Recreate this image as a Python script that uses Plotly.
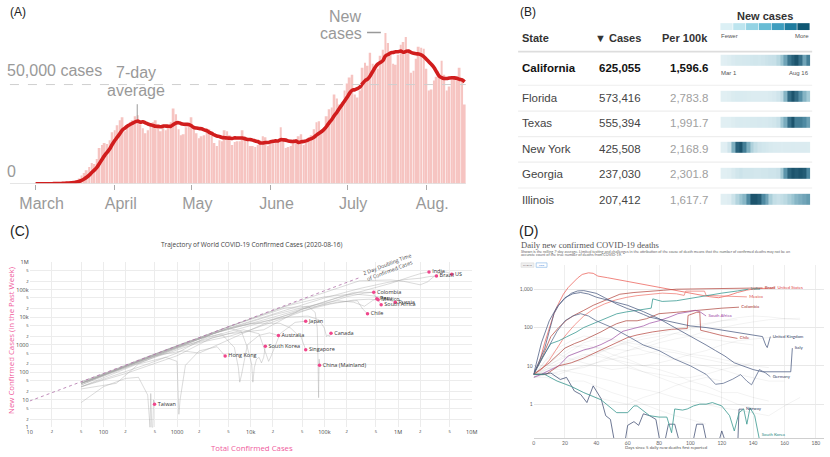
import numpy as np
import pandas as pd
import plotly.graph_objects as go

W, H = 830, 457


def fx(p):
    return p / W


def fy(p):
    return 1 - p / H


# ── (A) US daily new cases, 1 Mar – 16 Aug 2020 ─────────────────
A_MAR = [15, 25, 25, 35, 70, 85, 110, 120, 180, 280, 400, 480, 650, 700, 900,
         1200, 1700, 2700, 4200, 5500, 6800, 8500, 10500, 10000, 12500, 18000,
         19500, 20500, 20000, 22000, 26000]
A_APR = [27000, 29500, 32000, 33500, 26500, 29500, 31000, 32000, 34000, 34500,
         30000, 28000, 25500, 27000, 29500, 31000, 32000, 29500, 26500, 28000,
         27000, 29000, 31000, 38000, 35000, 27500, 24500, 25000, 28500, 30500]
A_MAY = [33500, 29000, 25500, 23000, 24000, 24500, 28000, 27500, 25000, 20500,
         19000, 22000, 21500, 27000, 26500, 24500, 19500, 21000, 21500, 21500,
         27000, 24000, 22000, 19000, 19000, 18500, 19500, 22000, 24000, 23500, 19000]
A_JUN = [21500, 20500, 21000, 21500, 28500, 23000, 18000, 18500, 19000, 21000,
         22500, 24000, 25000, 19500, 20500, 23500, 24500, 27500, 31000, 31500,
         26000, 28500, 34000, 37500, 38500, 45000, 43000, 40000, 41000, 47000]
A_JUL = [50500, 53500, 55000, 45000, 43500, 47000, 58500, 61000, 59500, 66000,
         60500, 58500, 58000, 64500, 67500, 76000, 71000, 66000, 60500, 60000,
         65000, 70000, 71500, 74000, 67000, 56000, 57000, 63000, 69000, 68500, 68000]
A_AUG = [58000, 47000, 47500, 52000, 54000, 54000, 62000, 55000, 47000, 49000,
         53000, 53500, 52500, 58500, 53000, 40000]
A_DAILY = A_MAR + A_APR + A_MAY + A_JUN + A_JUL + A_AUG
A_MONTH_START = [0, 31, 61, 92, 122, 153]
A_MONTH_LABEL = ["March", "April", "May", "June", "July", "Aug."]

# ── (B) state table ─────────────────────────────────────────────
B_STATES = ["California", "Florida", "Texas", "New York", "Georgia", "Illinois"]
B_CASES = [625055, 573416, 555394, 425508, 237030, 207412]
B_PER100K = [1596.6, 2783.8, 1991.7, 2168.9, 2301.8, 1617.7]
# weekly average of new cases (thousands), weeks starting 1 Mar
B_WEEKLY = {
    "California": [0.02, 0.1, 0.4, 0.9, 1.2, 1.2, 1.3, 1.4, 1.6, 1.7, 1.6, 1.9,
                   2.3, 2.6, 2.8, 3.5, 5.0, 6.5, 8.3, 9.0, 9.5, 8.5, 6.5, 8.0],
    "Florida": [0.005, 0.02, 0.2, 0.8, 1.0, 1.0, 0.9, 0.8, 0.6, 0.6, 0.7, 0.7,
                0.7, 0.9, 1.3, 2.2, 3.8, 7.0, 10.5, 11.5, 10.5, 9.0, 7.0, 5.5],
    "Texas": [0.0, 0.01, 0.1, 0.5, 0.8, 0.9, 0.8, 0.9, 1.0, 1.0, 1.2, 1.1,
              1.2, 1.5, 1.8, 2.8, 5.0, 6.5, 9.0, 10.0, 8.5, 8.5, 8.0, 7.0],
    "New York": [0.01, 0.1, 2.0, 6.0, 9.0, 9.5, 8.0, 6.0, 4.0, 3.0, 2.0, 1.6,
                 1.3, 1.0, 0.8, 0.7, 0.6, 0.7, 0.7, 0.75, 0.7, 0.7, 0.7, 0.65],
    "Georgia": [0.0, 0.01, 0.1, 0.4, 0.7, 0.9, 0.7, 0.7, 0.7, 0.6, 0.6, 0.7,
                0.7, 0.8, 0.8, 1.0, 1.8, 2.8, 3.5, 3.7, 3.6, 3.7, 3.6, 3.0],
    "Illinois": [0.0, 0.01, 0.1, 0.6, 1.0, 1.3, 1.5, 2.0, 2.5, 2.5, 2.4, 2.0,
                 1.7, 1.1, 0.8, 0.7, 0.8, 0.9, 1.1, 1.3, 1.5, 1.6, 1.7, 1.8],
}
B_WEEK_EDGES = [0, 7, 14, 21, 28, 35, 42, 49, 56, 63, 70, 77, 84, 91, 98, 105,
                112, 119, 126, 133, 140, 147, 154, 161, 169]

# ── (C) trajectories: total cases vs new cases in past week ─────
C_TOTAL = {
    "US": [60, 500, 5000, 50000, 300000, 800000, 1200000, 1600000, 2000000,
           2500000, 3200000, 3900000, 4700000, 5360000],
    "India": [50, 500, 3000, 15000, 50000, 150000, 400000, 800000, 1500000,
              2000000, 2630000],
    "Brazil": [50, 500, 5000, 30000, 100000, 300000, 700000, 1200000, 2000000,
               2700000, 3320000],
    "Colombia": [50, 500, 2000, 5000, 10000, 30000, 80000, 200000, 350000, 468000],
    "Peru": [50, 500, 3000, 20000, 60000, 150000, 250000, 350000, 450000, 515000],
    "Mexico": [50, 500, 3000, 15000, 50000, 120000, 250000, 400000, 537000],
    "Russia": [50, 500, 5000, 30000, 100000, 250000, 450000, 650000, 800000, 917000],
    "South Africa": [50, 500, 1200, 2000, 5000, 20000, 80000, 250000, 450000, 590000],
    "Chile": [50, 1000, 5000, 15000, 50000, 150000, 280000, 330000, 385000],
    "Japan": [50, 200, 1000, 3000, 8000, 13000, 16000, 17500, 19000, 25000,
              40000, 55800],
    "Canada": [50, 500, 5000, 30000, 60000, 85000, 100000, 107000, 112000,
               117000, 123000],
    "Australia": [50, 300, 1500, 4000, 6000, 6800, 7100, 7500, 9000, 13000,
                  18000, 23800],
    "South Korea": [50, 500, 5000, 7500, 9000, 10300, 10700, 11200, 12000, 13000,
                    14000, 15000, 15800],
    "Singapore": [50, 150, 400, 1000, 3000, 10000, 25000, 35000, 42000, 48000,
                  52000, 55800],
    "Hong Kong": [50, 100, 150, 300, 700, 1000, 1040, 1060, 1100, 1300, 2000,
                  3500, 4500],
    "China (Mainland)": [50, 500, 5000, 30000, 60000, 75000, 80000, 81500, 82500,
                         83000, 83500, 84000, 85000, 86000],
    "Taiwan": [50, 100, 200, 300, 400, 420, 430, 440, 455, 470, 480, 495],
}
C_WEEKLY = {
    "US": [45, 450, 4500, 42000, 210000, 225000, 200000, 170000, 150000, 190000,
           330000, 460000, 420000, 361000],
    "India": [30, 350, 2500, 8000, 20000, 50000, 100000, 170000, 300000, 380000,
              440000],
    "Brazil": [40, 420, 4000, 18000, 50000, 110000, 180000, 230000, 260000,
               300000, 310000],
    "Colombia": [40, 350, 1200, 2000, 3500, 10000, 25000, 55000, 75000, 81000],
    "Peru": [40, 400, 2500, 12000, 25000, 40000, 35000, 25000, 40000, 47000],
    "Mexico": [35, 380, 2000, 7000, 17000, 30000, 42000, 45000, 43000],
    "Russia": [35, 450, 4500, 25000, 55000, 70000, 60000, 50000, 40000, 34600],
    "South Africa": [45, 400, 600, 500, 1500, 8000, 30000, 80000, 80000, 28600],
    "Chile": [40, 800, 2500, 3500, 20000, 35000, 40000, 20000, 13300],
    "Japan": [30, 90, 400, 1800, 3500, 2500, 500, 250, 400, 2500, 6500, 7200],
    "Canada": [40, 400, 4000, 10000, 11000, 8000, 4000, 2000, 2300, 2000, 2600],
    "Australia": [40, 280, 1400, 2500, 800, 150, 44, 80, 1000, 2200, 2700, 2180],
    "South Korea": [40, 450, 4000, 3000, 800, 200, 44, 150, 300, 350, 220, 350, 886],
    "Singapore": [30, 80, 200, 500, 2500, 6000, 6000, 4000, 2500, 2000, 1200, 656],
    "Hong Kong": [25, 35, 40, 200, 350, 250, 20, 3, 10, 180, 600, 850, 388],
    "China (Mainland)": [45, 450, 4500, 22000, 25000, 15000, 4000, 500, 150, 40,
                         12, 50, 300, 181],
    "Taiwan": [8, 30, 60, 66, 15, 1.2, 1, 17, 1, 1, 10, 6.9],
}
C_DOUBLING_X = [10, 300000]
C_DOUBLING_Y = [9.1, 273000]

# ── (D) daily new confirmed deaths (7-day avg) ──────────────────
D_DAYS = {
    "United States": [0, 4, 7, 10, 13, 16, 19, 22, 25, 28, 31, 35, 38, 41, 47, 53,
                      60, 67, 74, 81, 87, 94, 100, 106, 112, 118, 124, 130, 136,
                      142, 148, 154],
    "Mexico": [0, 5, 10, 15, 20, 26, 32, 38, 45, 52, 59, 66, 74, 82, 91, 96, 97,
               109, 110, 116, 122, 130, 136],
    "Brazil": [0, 5, 11, 16, 21, 26, 32, 38, 45, 50, 55, 64, 74, 83, 91, 100, 110,
               120, 130, 140, 146],
    "India": [0, 5, 11, 16, 21, 27, 32, 38, 43, 48, 53, 59, 64, 70, 75, 76, 82, 91,
              100, 110, 120, 130, 137],
    "Colombia": [0, 10, 20, 26, 32, 38, 43, 48, 53, 59, 66, 72, 80, 91, 100, 110,
                 120, 131],
    "South Africa": [0, 5, 11, 16, 22, 27, 32, 38, 43, 50, 57, 64, 70, 74, 80, 87,
                     92, 99, 103, 106, 110],
    "Chile": [0, 8, 16, 24, 32, 43, 53, 60, 66, 76, 88, 98, 98.5, 104, 106, 106.5,
              112, 120, 130],
    "United Kingdom": [0, 4, 7, 10, 13, 16, 20, 24, 28, 32, 36, 40, 45, 53, 60, 64,
                       70, 74, 80, 85, 90, 100, 110, 116, 127, 137, 146, 148, 149,
                       151],
    "Italy": [0, 5, 10, 15, 20, 25, 30, 35, 40, 50, 60, 70, 80, 90, 100, 110, 116,
              122, 128, 134, 140, 146, 152, 158, 164, 165],
    "Germany": [0, 7, 15, 20, 25, 30, 35, 40, 50, 60, 70, 80, 90, 100, 110, 116,
                121, 127, 132, 136, 139, 144, 148, 151],
    "Norway": [0, 5, 11, 17, 21, 26, 30, 34, 38, 43, 46, 49, 53, 57, 60, 64, 67, 70,
               74, 78, 82, 86, 90, 95, 100, 104, 108, 112, 116, 120, 125, 130,
               131, 134],
    "South Korea": [0, 7, 15, 24, 32, 43, 53, 60, 64, 66, 74, 80, 85, 88, 90, 95,
                    98, 102, 106, 110, 114, 120, 125, 128, 131, 134, 136, 138, 141,
                    144],
}
D_VALUES = {
    "United States": [6, 14, 39, 100, 230, 430, 740, 1100, 1480, 1950, 2430, 2680,
                      2600, 2200, 2000, 1800, 1570, 1400, 1220, 1100, 980, 880, 800,
                      720, 640, 600, 680, 820, 950, 1030, 1070, 1080],
    "Mexico": [6, 8, 14, 30, 60, 115, 200, 300, 410, 520, 610, 680, 745, 790, 760,
               690, 890, 890, 690, 680, 650, 640, 630],
    "Brazil": [6, 15, 58, 100, 155, 210, 280, 380, 500, 620, 740, 820, 900, 940,
               1000, 1010, 1030, 1040, 1020, 1050, 1080],
    "India": [6, 15, 38, 45, 57, 75, 100, 125, 150, 185, 228, 255, 277, 306, 320,
              560, 480, 500, 580, 680, 790, 900, 1000],
    "Colombia": [6, 12, 29, 38, 47, 60, 77, 100, 126, 150, 150, 170, 230, 250, 270,
                 300, 320, 340],
    "South Africa": [5, 6, 8, 10, 18, 22, 26, 30, 36, 50, 80, 95, 110, 129, 150,
                     190, 230, 257, 282, 260, 200],
    "Chile": [6, 6, 10, 12, 16, 26, 42, 55, 64, 77, 90, 94, 207, 250, 250, 85, 75,
              62, 52],
    "United Kingdom": [6, 14, 28, 80, 230, 380, 580, 780, 900, 920, 860, 780, 610,
                       410, 310, 277, 220, 187, 165, 150, 138, 110, 100, 91, 75, 67,
                       58, 35, 30, 58],
    "Italy": [6, 40, 150, 350, 600, 760, 820, 750, 620, 480, 380, 260, 170, 100,
              60, 35, 25, 18, 12, 10, 8, 7, 7, 7, 7, 29],
    "Germany": [6, 20, 80, 150, 200, 230, 200, 150, 100, 60, 35, 25, 15, 10, 6, 3.3,
                3.5, 4.5, 5.9, 4, 3.2, 8, 6.5, 5.2],
    "Norway": [6, 6, 6.5, 4.4, 5, 2.2, 1.8, 1.1, 3.0, 1.4, 0.5, 0.4, 0.05, 0.05,
               0.28, 0.35, 0.28, 0.56, 0.5, 0.4, 0.05, 0.3, 0.3, 0.05, 0.05, 0.3,
               0.3, 0.05, 0.05, 0.2, 0.05, 0.05, 0.74, 0.74],
    "South Korea": [6, 6, 4, 2.9, 2, 1.3, 0.6, 0.6, 0.9, 0.9, 0.5, 0.46, 0.46, 0.18,
                    0.75, 0.7, 0.75, 0.9, 1.0, 1.0, 1.1, 0.9, 0.5, 0.2, 0.6, 0.75,
                    0.3, 0.8, 0.5, 0.12],
}
D_GREY_DAYS = [0, 8, 16, 24, 32, 40, 50, 60, 70, 80, 90, 100, 110, 120, 130, 140,
               150, 160, 170]
D_GREY = [
    [6, 10, 14, 20, 25, 30, 28, 25, 30, 40, 50, 60, 80, 100, 120, 140, 160, 170, 175],
    [5, 8, 12, 15, 20, 18, 15, 12, 10, 12, 15, 20, 25, 35, 45, 50, 55, 60, None],
    [6, 9, 8, 7, 6, 5, 4, 3, 2.5, 2, 1.5, 1.2, 1, 0.8, 0.7, 0.6, 0.5, 0.9, 1.5],
    [5, 15, 30, 45, 60, 55, 50, 40, 35, 30, 25, 20, 18, 15, 12, 10, 9, None, None],
    [6, 7, 9, 12, 15, 20, 30, 45, 60, 70, 90, 110, 130, 150, 160, None, None, None, None],
    [5, 6, 5, 4, 4, 3, 2, 1.5, 1, 0.7, 0.5, 0.4, 0.3, None, None, None, None, None, None],
    [6, 12, 20, 15, 12, 10, 8, 9, 7, 6, 5, 5, 6, 8, 10, 12, None, None, None],
    [5, 9, 15, 25, 40, 50, 45, 35, 25, 20, 15, 12, 10, 8, 6, 5, 4, 4, None],
    [6, 8, 10, 14, 18, 22, 30, 40, 50, 60, 70, 60, 50, 45, 40, 35, None, None, None],
    [5, 5, 4, 3, 2, 1.5, 1.2, 1, 1.5, 2, 3, 4, 5, 4, None, None, None, None, None],
    [6, 10, 18, 30, 35, 30, 20, 15, 10, 8, 6, 4, 3, 2, 2, 1.5, 1.2, None, None],
    [5, 7, 6, 8, 10, 12, 15, 18, 20, 25, 22, 18, 15, 12, 10, None, None, None, None],
    [6, 14, 25, 35, 30, 22, 15, 10, 7, 5, 3.5, 2.5, 2, 1.5, 1, 0.8, None, None, None],
    [5, 6, 7, 8, 9, 12, 18, 25, 35, 50, 70, 90, 120, 150, 180, 200, 190, 170, 160],
]

# ── styles ───────────────────────────────────────────────────────
FONT_A = "Liberation Sans"
FONT_C = "Open Sans"
FONT_D = "Lato"
PINK = "#ef5b9c"
D_COLORS = {
    "United States": "rgba(236,104,96,0.8)", "Mexico": "rgba(240,130,122,0.8)",
    "Brazil": "rgba(182,74,66,0.75)", "India": "rgba(60,155,147,0.8)",
    "Colombia": "rgba(176,76,68,0.75)", "South Africa": "rgba(161,88,168,0.75)",
    "Chile": "rgba(184,76,70,0.75)", "United Kingdom": "rgba(74,90,128,0.75)",
    "Italy": "rgba(74,90,128,0.75)", "Germany": "rgba(87,103,139,0.75)",
    "Norway": "rgba(61,75,112,0.75)", "South Korea": "rgba(58,153,144,0.8)",
}
D_LABEL_COLORS = {
    "United States": "#e0403f", "Mexico": "#e0504a", "Brazil": "#a8322e",
    "India": "#2a8a83", "Colombia": "#a8322e", "South Africa": "#9a3ea3",
    "Chile": "#a8322e", "United Kingdom": "#2f3d63", "Italy": "#2f3d63",
    "Germany": "#2f3d63", "Norway": "#2f3d63", "South Korea": "#2a8a83",
}

traces = []
shapes = []
annots = []


def note(x, y, text, size, color="#333", anchor="left", family=FONT_A, angle=0):
    annots.append(dict(x=fx(x), y=fy(y), xref="paper", yref="paper", text=text,
                       showarrow=False, xanchor=anchor, yanchor="middle",
                       textangle=angle, font=dict(size=size, color=color, family=family)))


# ── (A) ─────────────────────────────────────────────────────────
a_days = np.arange(len(A_DAILY))
a_avg = pd.Series(A_DAILY).rolling(7, min_periods=1).mean()
traces.append(go.Bar(x=a_days, y=A_DAILY, marker=dict(color="#f6c4c1", line_width=0),
                     xaxis="x", yaxis="y", hoverinfo="skip"))
traces.append(go.Scatter(x=a_days, y=a_avg, mode="lines",
                         line=dict(color="#d11d1d", width=3.6, shape="spline"),
                         xaxis="x", yaxis="y", hoverinfo="skip"))
shapes.append(dict(type="line", xref="paper", yref="y", x0=fx(5), x1=fx(467),
                   y0=0, y1=0, line=dict(color="#dcdcdc", width=1.5)))
shapes.append(dict(type="line", xref="paper", yref="y", x0=fx(5), x1=fx(467),
                   y0=50000, y1=50000, line=dict(color="#cfcfcf", width=1, dash="dash")))
annots.append(dict(x=fx(0), y=50000, xref="paper", yref="y", text="50,000 cases",
                   showarrow=False, xanchor="left", yanchor="middle", yshift=14,
                   font=dict(size=16, color="#999", family=FONT_A)))
annots.append(dict(x=fx(0), y=0, xref="paper", yref="y", text="0",
                   showarrow=False, xanchor="left", yanchor="middle", yshift=12,
                   font=dict(size=16, color="#999", family=FONT_A)))
note(133, 70, "7-day", 16, "#999", "center")
note(133, 88, "average", 16, "#999", "center")
shapes.append(dict(type="line", xref="x", yref="paper", x0=39.8, x1=39.8,
                   y0=fy(102), y1=fy(117), line=dict(color="#999", width=1)))
note(345, 13, "New", 16, "#999", "center")
note(341, 30, "cases", 16, "#999", "center")
shapes.append(dict(type="line", xref="x", yref="paper", x0=129.8, x1=135.2,
                   y0=fy(29), y1=fy(29), line=dict(color="#999", width=1.5)))
note(3, 8, "(A)", 12, "#222")

# ── (B) ─────────────────────────────────────────────────────────
note(520, 8, "(B)", 12, "#222")
note(770.5, 12, "<b>New cases</b>", 11, "#333", "center")
legend_cols = ["#dcf0f5", "#bde5ef", "#94d3e4", "#68bcd5", "#3f9ebf", "#1f7c9f", "#0f5773"]
for i, c in enumerate(legend_cols):
    x0 = 725 + i * 13
    shapes.append(dict(type="rect", xref="paper", yref="paper", x0=fx(x0), x1=fx(x0 + 12.4),
                       y0=fy(26.5), y1=fy(19.5), fillcolor=c, line_width=0))
note(724, 33, "Fewer", 6, "#555")
note(817, 33, "More", 6, "#555", "right")
note(522, 35, "<b>State</b>", 11, "#333")
note(647, 35, "<b>▼ Cases</b>", 11, "#333", "right")
note(714, 35, "<b>Per 100k</b>", 11, "#333", "right")
shapes.append(dict(type="line", xref="paper", yref="paper", x0=fx(520), x1=fx(818),
                   y0=fy(48.5), y1=fy(48.5), line=dict(color="#ddd", width=1.6)))
row_y = [65, 95.5, 121.5, 147.5, 173.5, 199.5]
for yy in [82.7, 109, 135, 161, 187.3]:
    shapes.append(dict(type="line", xref="paper", yref="paper", x0=fx(520), x1=fx(818),
                       y0=fy(yy), y1=fy(yy), line=dict(color="#eee", width=1.2)))
for i, (st, cs, pc) in enumerate(zip(B_STATES, B_CASES, B_PER100K)):
    if i == 0:
        note(522, row_y[i], f"<b>{st}</b>", 11.5, "#121212")
        note(647, row_y[i], f"<b>{cs:,}</b>", 11.5, "#121212", "right")
        note(714, row_y[i], f"<b>{pc:,.1f}</b>", 11.5, "#121212", "right")
    else:
        note(522, row_y[i], st, 11.5, "#444")
        note(647, row_y[i], f"{cs:,}", 11.5, "#444", "right")
        note(714, row_y[i], f"{pc:,.1f}", 11.5, "#a0a0a0", "right")
note(724, 70.5, "Mar 1", 6, "#555")
note(817, 70.5, "Aug 16", 6, "#555", "right")

strip_centre = [57.5, 94.2, 120.2, 145.9, 172.5, 198.5]
y_edges = []
z_rows = []
gap = [np.nan] * (len(B_WEEK_EDGES) - 1)
for i, st in enumerate(B_STATES):
    v = np.array(B_WEEKLY[st], dtype=float)
    y_edges += [strip_centre[i] - 5.8, strip_centre[i] + 5.8]
    z_rows.append(list(v / v.max()))
    if i < len(B_STATES) - 1:
        z_rows.append(gap)
traces.append(go.Heatmap(
    x=B_WEEK_EDGES, y=y_edges, z=z_rows, zmin=0, zmax=1, showscale=False,
    colorscale=[[0, "#e1eff3"], [0.3, "#c7e0e8"], [0.55, "#95c1cf"],
                [0.8, "#4f8aa2"], [1, "#1c546d"]],
    xaxis="x2", yaxis="y2", hoverinfo="skip"))

# ── (C) ─────────────────────────────────────────────────────────
note(3, 231, "(C)", 14, "#222")
note(250, 245, "Trajectory of World COVID-19 Confirmed Cases (2020-08-16)", 6.5,
     "#444", "center", FONT_C)
note(250, 452, "Total Confirmed Cases", 7.8, PINK, "center", FONT_C)
note(6, 342, "New Confirmed Cases (in the Past Week)", 7.8, PINK, "center", FONT_C, -90)
for name in C_TOTAL:
    traces.append(go.Scatter(x=C_TOTAL[name], y=C_WEEKLY[name], mode="lines",
                             line=dict(color="rgba(165,165,165,0.5)", width=0.8),
                             xaxis="x3", yaxis="y3", hoverinfo="skip"))
traces.append(go.Scatter(x=C_DOUBLING_X, y=C_DOUBLING_Y, mode="lines",
                         line=dict(color="#b070a8", width=0.8, dash="dot"),
                         xaxis="x3", yaxis="y3", hoverinfo="skip"))
traces.append(go.Scatter(
    x=[C_TOTAL[n][-1] for n in C_TOTAL], y=[C_WEEKLY[n][-1] for n in C_TOTAL],
    mode="markers+text", text=list(C_TOTAL), textposition="middle right",
    textfont=dict(size=5.5, color="#333", family=FONT_C),
    marker=dict(size=3.5, color="#f0468c"),
    xaxis="x3", yaxis="y3", hoverinfo="skip"))
note(388.5, 268.6, "2 Day Doubling Time<br>of Confirmed Cases", 5.3, "#444",
     "center", FONT_C, -21)

# ── (D) ─────────────────────────────────────────────────────────
note(519, 231, "(D)", 14, "#222")
note(521, 245.5, "Daily new confirmed COVID-19 deaths", 8.6, "#555", "left",
     "Liberation Serif")
note(521, 251.6, "Shown is the rolling 7-day average. Limited testing and challenges in "
     "the attribution of the cause of death means that the number of confirmed "
     "deaths may not be an", 3.75, "#666", "left", FONT_D)
note(521, 255.4, "accurate count of the true number of deaths from COVID-19.", 3.75,
     "#666", "left", FONT_D)
shapes.append(dict(type="rect", xref="paper", yref="paper", x0=fx(523), x1=fx(536),
                   y0=fy(268), y1=fy(263.5), fillcolor="#f0f0f0",
                   line=dict(color="#d8d8d8", width=0.6)))
shapes.append(dict(type="rect", xref="paper", yref="paper", x0=fx(538.3), x1=fx(549.3),
                   y0=fy(268), y1=fy(263.5), fillcolor="#ffffff",
                   line=dict(color="#8fbbe8", width=0.7)))
note(529.5, 265.8, "LINEAR", 2.6, "#666", "center", FONT_D)
note(543.8, 265.8, "LOG", 2.6, "#3b7dd8", "center", FONT_D)
note(670, 451, "Days since 5 daily new deaths first reported", 4.3, "#555", "center",
     FONT_D)

for vals in D_GREY:
    traces.append(go.Scatter(x=D_GREY_DAYS, y=vals, mode="lines",
                             line=dict(color="rgba(0,0,0,0.08)", width=0.7),
                             xaxis="x4", yaxis="y4", hoverinfo="skip"))
for name in D_DAYS:
    traces.append(go.Scatter(x=D_DAYS[name], y=D_VALUES[name], mode="lines",
                             line=dict(color=D_COLORS[name], width=1),
                             xaxis="x4", yaxis="y4", hoverinfo="skip"))
traces.append(go.Scatter(
    x=[D_DAYS[n][-1] + 1.5 for n in D_DAYS],
    y=[max(D_VALUES[n][-1], 0.16) for n in D_DAYS],
    mode="text", text=list(D_DAYS), textposition="middle right",
    textfont=dict(size=4.3, color=[D_LABEL_COLORS[n] for n in D_DAYS], family=FONT_D),
    xaxis="x4", yaxis="y4", hoverinfo="skip"))

# ── layout ──────────────────────────────────────────────────────
fig = go.Figure(data=traces)
fig.update_layout(
    width=W, height=H, margin=dict(l=0, r=0, t=0, b=0),
    paper_bgcolor="white", plot_bgcolor="white", showlegend=False,
    bargap=0.22,
    xaxis=dict(domain=[fx(20), fx(470)], range=[-4.25, 169.63], anchor="y",
               tickvals=A_MONTH_START, ticktext=A_MONTH_LABEL, ticks="outside",
               ticklen=5, tickcolor="#aaa", ticklabelshift=6, ticklabelstandoff=0,
               tickfont=dict(size=16, color="#999", family=FONT_A),
               showgrid=False, zeroline=False, showline=False),
    yaxis=dict(domain=[fy(183), fy(20)], range=[0, 80693], anchor="x",
               visible=False, showgrid=False),
    xaxis2=dict(domain=[fx(725), fx(816)], range=[0, 169], anchor="y2",
                visible=False),
    yaxis2=dict(domain=[fy(210), fy(48)], range=[210, 48], anchor="x2",
                visible=False),
    xaxis3=dict(domain=[fx(25), fx(473)], type="log", range=[1, 7], anchor="y3",
                dtick="D2", gridcolor="#ececec", gridwidth=0.6, zeroline=False,
                showline=False, ticks="",
                tickfont=dict(size=5.5, color="#444", family=FONT_C)),
    yaxis3=dict(domain=[fy(431), fy(262.7)], type="log", range=[0, 6], anchor="x3",
                dtick="D2", gridcolor="#ececec", gridwidth=0.6, zeroline=False,
                showline=False, ticks="",
                tickfont=dict(size=5.5, color="#444", family=FONT_C)),
    xaxis4=dict(domain=[fx(535.7), fx(830)], range=[0, 185.2], anchor="y4",
                tickvals=list(range(0, 181, 20)), gridcolor="#eeeeee", gridwidth=0.6,
                zeroline=False, showline=True, linecolor="#cfcfcf", linewidth=0.6,
                tickfont=dict(size=5, color="#666", family=FONT_D)),
    yaxis4=dict(domain=[fy(442), fy(266)], type="log", range=[-0.89, 3.623],
                anchor="x4", tickvals=[1, 10, 100, 1000],
                ticktext=["1", "10", "100", "1,000"], gridcolor="#e8e8e8",
                gridwidth=0.6, zeroline=False, showline=False,
                tickfont=dict(size=5, color="#666", family=FONT_D)),
    shapes=shapes,
    annotations=annots,
)

fig.write_html("out.html", config={"displayModeBar": False},
               post_script="document.body.style.margin='0';")
